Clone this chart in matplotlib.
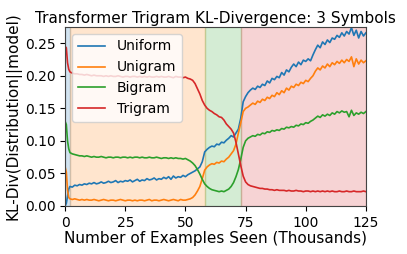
import numpy as np
import matplotlib
matplotlib.use("Agg")
import matplotlib.pyplot as plt

# sampling grid (thousands of examples seen)
steps = np.concatenate([[0, 0.5, 1, 1.5, 2], np.arange(3, 126)])

uniform = [
    0.000, 0.004, 0.015, 0.026, 0.030,
    0.029, 0.032, 0.031, 0.033, 0.032, 0.034, 0.033, 0.035, 0.034, 0.036,
    0.034, 0.035, 0.037, 0.035, 0.036, 0.038, 0.036, 0.037, 0.039, 0.036,
    0.038, 0.037, 0.039, 0.038, 0.040, 0.037, 0.039, 0.041, 0.038, 0.040,
    0.039, 0.042, 0.040, 0.041, 0.043, 0.040, 0.042, 0.041, 0.044, 0.042,
    0.045, 0.041, 0.046, 0.043, 0.045, 0.044, 0.047, 0.045, 0.048, 0.050,
    0.052, 0.054, 0.057, 0.060, 0.068, 0.083, 0.087, 0.090, 0.092, 0.091,
    0.095, 0.094, 0.098, 0.097, 0.101, 0.104, 0.108, 0.106, 0.112, 0.118,
    0.135, 0.160, 0.168, 0.174, 0.178, 0.181, 0.179, 0.184, 0.182, 0.187,
    0.185, 0.192, 0.189, 0.196, 0.194, 0.199, 0.197, 0.205, 0.201, 0.209,
    0.206, 0.213, 0.218, 0.214, 0.221, 0.217, 0.224, 0.222, 0.226, 0.223,
    0.232, 0.240, 0.247, 0.243, 0.252, 0.248, 0.255, 0.251, 0.258, 0.256,
    0.262, 0.259, 0.266, 0.261, 0.268, 0.264, 0.274, 0.262, 0.270, 0.258,
    0.268, 0.261, 0.266,
]

unigram = [
    0.060, 0.052, 0.025, 0.013, 0.011,
    0.010, 0.011, 0.010, 0.009, 0.010, 0.009, 0.010, 0.009, 0.009, 0.010,
    0.009, 0.008, 0.009, 0.010, 0.009, 0.008, 0.009, 0.009, 0.008, 0.009,
    0.010, 0.009, 0.008, 0.009, 0.009, 0.008, 0.009, 0.008, 0.009, 0.009,
    0.008, 0.009, 0.010, 0.008, 0.009, 0.009, 0.008, 0.009, 0.010, 0.009,
    0.008, 0.009, 0.010, 0.009, 0.008, 0.010, 0.009, 0.009, 0.010, 0.011,
    0.013, 0.017, 0.023, 0.030, 0.042, 0.055, 0.060, 0.063, 0.065, 0.064,
    0.067, 0.066, 0.069, 0.068, 0.072, 0.075, 0.080, 0.085, 0.095, 0.112,
    0.128, 0.145, 0.150, 0.152, 0.155, 0.158, 0.156, 0.161, 0.159, 0.164,
    0.162, 0.167, 0.165, 0.170, 0.168, 0.174, 0.171, 0.177, 0.174, 0.181,
    0.178, 0.184, 0.182, 0.187, 0.185, 0.190, 0.188, 0.193, 0.191, 0.196,
    0.200, 0.207, 0.212, 0.209, 0.215, 0.212, 0.218, 0.214, 0.220, 0.217,
    0.222, 0.219, 0.224, 0.220, 0.225, 0.222, 0.229, 0.214, 0.226, 0.218,
    0.224, 0.220, 0.223,
]

bigram = [
    0.130, 0.125, 0.100, 0.088, 0.082,
    0.080, 0.079, 0.078, 0.077, 0.077, 0.076, 0.077, 0.076, 0.075, 0.076,
    0.075, 0.075, 0.076, 0.075, 0.074, 0.075, 0.075, 0.074, 0.075, 0.075,
    0.074, 0.075, 0.075, 0.074, 0.075, 0.074, 0.075, 0.075, 0.074, 0.075,
    0.074, 0.074, 0.075, 0.074, 0.074, 0.075, 0.074, 0.073, 0.074, 0.074,
    0.073, 0.074, 0.073, 0.074, 0.073, 0.073, 0.072, 0.073, 0.071, 0.069,
    0.066, 0.062, 0.056, 0.049, 0.041, 0.034, 0.030, 0.027, 0.025, 0.024,
    0.023, 0.022, 0.023, 0.022, 0.024, 0.026, 0.030, 0.036, 0.045, 0.056,
    0.072, 0.090, 0.100, 0.104, 0.106, 0.108, 0.107, 0.110, 0.109, 0.112,
    0.111, 0.114, 0.113, 0.116, 0.115, 0.117, 0.116, 0.119, 0.118, 0.121,
    0.120, 0.122, 0.121, 0.124, 0.123, 0.126, 0.125, 0.128, 0.127, 0.130,
    0.132, 0.135, 0.138, 0.136, 0.140, 0.138, 0.141, 0.139, 0.143, 0.141,
    0.145, 0.143, 0.146, 0.144, 0.145, 0.137, 0.147, 0.139, 0.143, 0.141,
    0.144, 0.142, 0.145,
]

trigram = [
    0.245, 0.243, 0.220, 0.210, 0.206,
    0.204, 0.203, 0.203, 0.202, 0.202, 0.201, 0.202, 0.201, 0.200, 0.201,
    0.200, 0.200, 0.200, 0.199, 0.200, 0.199, 0.200, 0.199, 0.199, 0.200,
    0.199, 0.198, 0.199, 0.199, 0.198, 0.199, 0.199, 0.198, 0.199, 0.198,
    0.199, 0.198, 0.199, 0.198, 0.198, 0.199, 0.198, 0.199, 0.198, 0.198,
    0.199, 0.198, 0.197, 0.199, 0.198, 0.198, 0.197, 0.198, 0.196, 0.195,
    0.193, 0.188, 0.180, 0.172, 0.162, 0.155, 0.150, 0.147, 0.145, 0.142,
    0.140, 0.137, 0.136, 0.132, 0.126, 0.122, 0.118, 0.112, 0.098, 0.080,
    0.062, 0.046, 0.037, 0.033, 0.031, 0.030, 0.029, 0.028, 0.027, 0.027,
    0.026, 0.026, 0.025, 0.025, 0.024, 0.025, 0.024, 0.024, 0.024, 0.023,
    0.024, 0.023, 0.023, 0.024, 0.023, 0.023, 0.022, 0.023, 0.023, 0.022,
    0.023, 0.022, 0.023, 0.022, 0.023, 0.022, 0.023, 0.022, 0.023, 0.022,
    0.022, 0.023, 0.022, 0.022, 0.023, 0.022, 0.022, 0.023, 0.022, 0.022,
    0.022, 0.023, 0.022,
]

# phases where a given distribution fits best
phase_bounds = [0, 2, 58, 73, 125]
phase_colors = ["tab:blue", "tab:orange", "tab:green", "tab:red"]

series = {
    "Uniform": uniform,
    "Unigram": unigram,
    "Bigram": bigram,
    "Trigram": trigram,
}

fig = plt.figure(figsize=(4.07, 2.54), dpi=100)
ax = fig.add_axes([0.16, 0.189, 0.739, 0.705])

for i, c in enumerate(phase_colors):
    ax.axvspan(phase_bounds[i], phase_bounds[i + 1], color=c, alpha=0.2)

for name, vals in series.items():
    ax.plot(steps, vals, label=name, linewidth=1.2)

ax.set_xlim(0, 125)
ax.set_ylim(0, 0.275)
ax.set_xticks([0, 25, 50, 75, 100, 125])
ax.set_yticks([0.0, 0.05, 0.10, 0.15, 0.20, 0.25])
ax.set_yticklabels(["0.00", "0.05", "0.10", "0.15", "0.20", "0.25"])
ax.tick_params(labelsize=10)
for spine in ax.spines.values():
    spine.set_color("#444444")

ax.set_title("Transformer Trigram KL-Divergence: 3 Symbols", fontsize=11, pad=3)
ax.set_xlabel("Number of Examples Seen (Thousands)", fontsize=11, labelpad=1)
ax.set_ylabel("KL-Div(Distribution||model)", fontsize=11, labelpad=2)
ax.legend(loc="upper left", fontsize=10)

fig.savefig("out.png", dpi=100)
